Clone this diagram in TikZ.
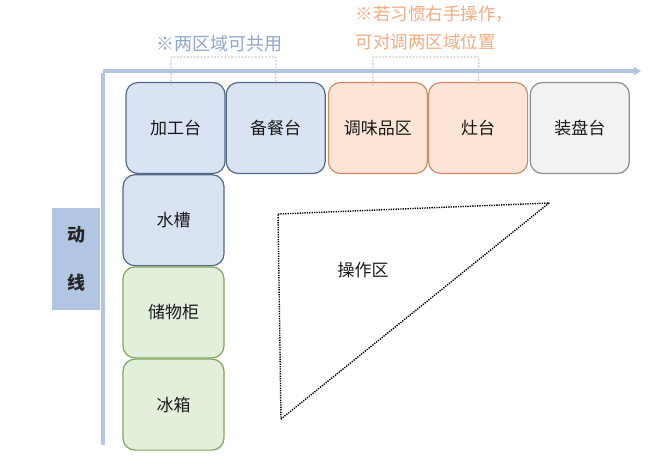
\documentclass[tikz,border=0pt]{standalone}
\usepackage{fontspec}
\usepackage{xcolor}
\newfontfamily\cjk{Noto Sans CJK SC}
\usetikzlibrary{positioning,arrows.meta}

\definecolor{axisblue}{HTML}{B2C5E2}
\definecolor{zoneblue}{HTML}{DAE3F3}
\definecolor{zoneblueline}{HTML}{55698A}
\definecolor{zonepeach}{HTML}{FCE4D6}
\definecolor{zonepeachline}{HTML}{CC8B62}
\definecolor{zonegray}{HTML}{F2F2F2}
\definecolor{zonegrayline}{HTML}{8E8E8E}
\definecolor{zonegreen}{HTML}{E2EFDA}
\definecolor{zonegreenline}{HTML}{7DA65E}
\definecolor{noteblue}{HTML}{8EA8CB}
\definecolor{noteorange}{HTML}{F3AB80}

\begin{document}
\begin{tikzpicture}[x=1pt, y=-1pt, line cap=round, line join=round,
	zone/.style={draw, line width=1.2pt, rounded corners=12pt, minimum width=99pt,
		minimum height=91pt, inner sep=0pt, text=black!90,
		font=\cjk\fontsize{17}{17}\selectfont},
	bluezone/.style={zone, draw=zoneblueline, fill=zoneblue},
	peachzone/.style={zone, draw=zonepeachline, fill=zonepeach},
	grayzone/.style={zone, draw=zonegrayline, fill=zonegray},
	greenzone/.style={zone, draw=zonegreenline, fill=zonegreen},
	bracket/.style={draw=black!22, line width=1.2pt, dash pattern=on 1.2pt off 2.2pt},
	node distance=0pt]
		
		\useasboundingbox (0,0) rectangle (668,475);
		
		% Axis of the working line
		\coordinate (axiscorner) at (103,71);
		\coordinate (axisbottom) at (103,445);
		\coordinate (axistip) at (641,71);
		\draw[axisblue, line width=4.5pt, line cap=butt] (axisbottom) -- ([yshift=-1.5pt]axiscorner);
		\draw[axisblue, line width=3.5pt, line cap=butt, -{Triangle[length=7pt,width=8pt]}]
		(axiscorner) -- (axistip);
		
		% Label box of the working line
		\node[fill=axisblue, minimum width=48pt, minimum height=102pt, inner sep=0pt,
		align=center, font=\cjk\bfseries\fontsize{18}{48}\selectfont, text=black!85]
		(dongxian) at (76,259) {动\\线};
		
		% Top row of counters
		\node[bluezone] (jiagong) at (175.5,128) {加工台};
		\node[bluezone, right=of jiagong] (beican) {备餐台};
		\node[peachzone, right=of beican, xshift=2pt] (tiaowei) {调味品区};
		\node[peachzone, right=of tiaowei] (zao) {灶台};
		\node[grayzone, right=of zao, xshift=1.5pt] (zhuangpan) {装盘台};
		
		% Left column of counters
		\node[bluezone, minimum width=101pt, below=of jiagong, xshift=-2pt] (shuicao) {水槽};
		\node[greenzone, minimum width=101pt, below=of shuicao] (chuwu) {储物柜};
		\node[greenzone, minimum width=101pt, below=of chuwu] (bingxiang) {冰箱};
		
		% Dotted working triangle
		\draw[line width=1.4pt, dash pattern=on 1.3pt off 1.1pt, line cap=butt]
		(278,214) -- (549,203) -- (281,419) -- cycle;
		\node[font=\cjk\fontsize{17}{17}\selectfont, text=black!90] (caozuo) at (363,270) {操作区};
		
		% Notes above the axis
		\node[font=\cjk\fontsize{18}{18}\selectfont, text=noteblue] (sharenote) at (219,44) {※两区域可共用};
		\node[font=\cjk\fontsize{17.5}{28}\selectfont, text=noteorange, align=left, anchor=west]
		(swapnote) at (352,28) {※若习惯右手操作，\\可对调两区域位置};
		
		% Brackets under the notes
		\draw[bracket] ([xshift=-4.5pt, yshift=-3pt]jiagong.north) |- (276,57) -- ([yshift=-3pt]beican.north);
		\draw[bracket] ([xshift=-5pt, yshift=-3pt]tiaowei.north) |- (479,57) -- ([yshift=-3pt]zao.north);
		
	\end{tikzpicture}
\end{document}
